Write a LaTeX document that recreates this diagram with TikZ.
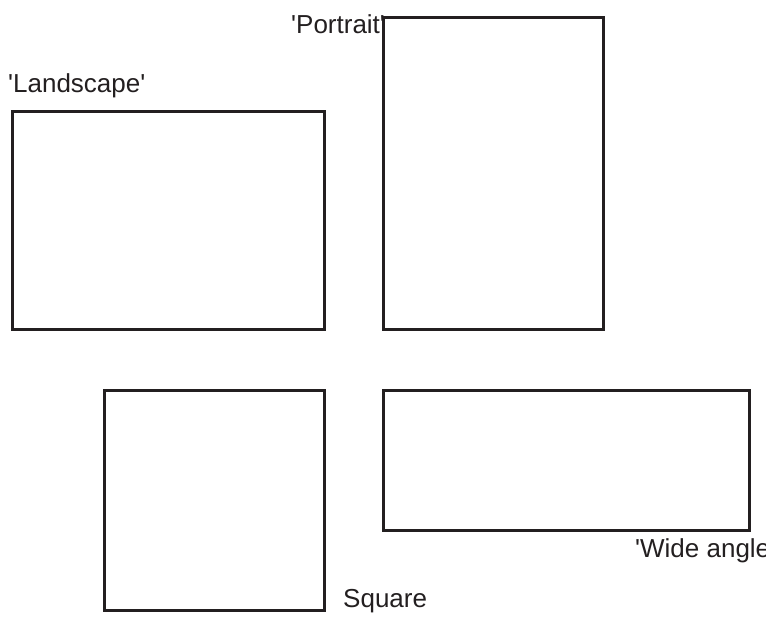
\documentclass[tikz,border=0pt]{standalone}
\usepackage{fontspec}
\setmainfont{Liberation Sans}
\usetikzlibrary{positioning}
\definecolor{ink}{HTML}{231F20}

\begin{document}
\begin{tikzpicture}[
    x=1pt, y=-1pt,
    % frame style
    frame/.style={draw=ink, line width=3.5pt, inner sep=0pt, outer sep=0pt,
                  anchor=north west},
    caption/.style={text=ink, font=\fontsize{26}{30}\selectfont, inner sep=0pt,
                    anchor=base west}
]
\useasboundingbox (0,0) rectangle (766,617);
\clip (0,0) rectangle (766,617);

% Captions
\node[caption] (portraitlbl) at (291,34) {\textquotesingle Portrait\textquotesingle};
\node[caption] (landscapelbl) at (8,93) {\textquotesingle Landscape\textquotesingle};
\node[caption] (widelbl) at (635,557) {\textquotesingle Wide angle\textquotesingle};
\node[caption] (squarelbl) at (343,607) {Square};

% Frames (drawn last so they sit over the captions)
\node[frame, fill=white, minimum width=312pt, minimum height=218pt] (landscape) at (12.5,111.5) {};
\node[frame, fill=white, minimum width=220pt, minimum height=312pt] (portrait) at (383.5,17.5) {};
\node[frame, fill=white, minimum width=220pt, minimum height=220pt] (square) at (104.5,390.5) {};
\node[frame, fill=white, minimum width=366pt, minimum height=140pt] (wide) at (383.5,390.5) {};

\end{tikzpicture}
\end{document}
